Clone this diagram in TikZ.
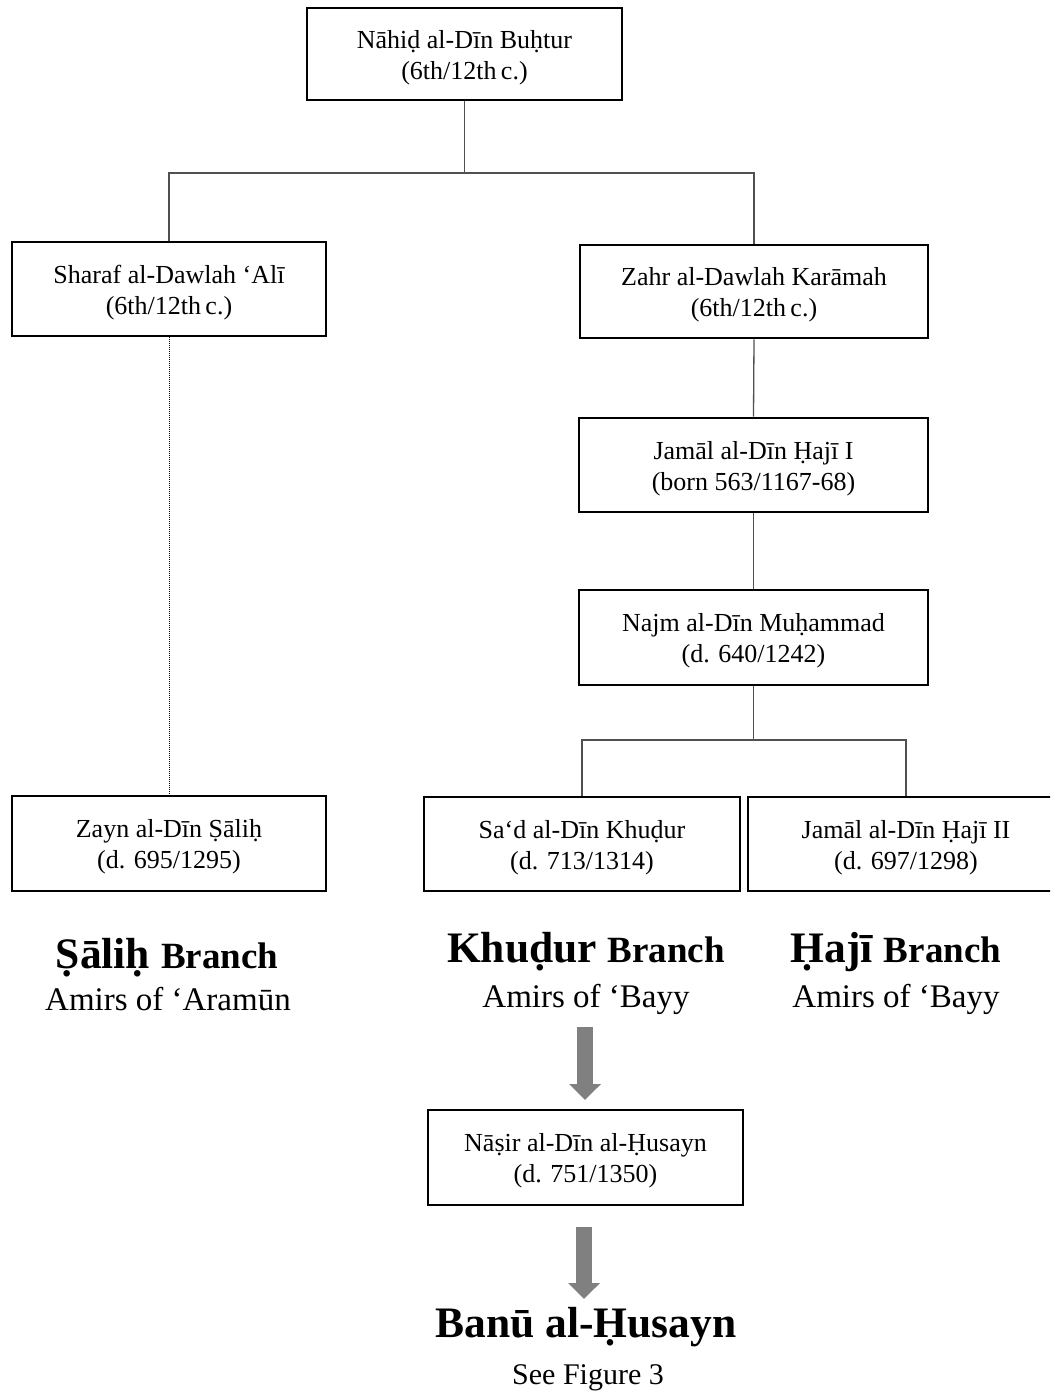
\documentclass[tikz,border=0pt]{standalone}
\usepackage{fontspec}
\setmainfont{Liberation Serif}
\usetikzlibrary{arrows.meta}
\definecolor{arrowgray}{HTML}{808080}
\definecolor{linegray}{HTML}{505050}
\newcommand\brnamefont{\fontsize{43.5}{43.5}\selectfont\bfseries}
\newcommand\brwordfont{\fontsize{37}{37}\selectfont\bfseries}
\newcommand\boxstrut{\rule{0pt}{25.5pt}}
\begin{document}
\begin{tikzpicture}[x=1pt,y=-1pt,
  person/.style={draw=black,line width=2.6pt,fill=white,align=center,inner sep=0pt,
    font=\fontsize{26}{31}\selectfont},
  link/.style={draw=linegray,line width=1.3pt},
  dotlink/.style={draw=black,line width=1pt,densely dotted},
  bigarrow/.style={draw=arrowgray,line width=16pt,
    -{Triangle[width=31pt,length=16pt]}},
  sub/.style={anchor=base,font=\fontsize{33}{33}\selectfont}]
\useasboundingbox (0,0) rectangle (1050,1397);
\clip (0,0) rectangle (1050,1397);

% boxes
\node[person,minimum width=315pt,minimum height=92pt] (top) at (464.5,54) {\boxstrut Nāhiḍ al-Dīn Buḥtur\\(6th/12th\,c.)};
\node[person,minimum width=314pt,minimum height=94pt] (sharaf) at (169,289) {\boxstrut Sharaf al-Dawlah ‘Alī\\(6th/12th\,c.)};
\node[person,minimum width=348pt,minimum height=93pt] (zahr) at (754,291.5) {\boxstrut Zahr al-Dawlah Karāmah\\(6th/12th\,c.)};
\node[person,minimum width=349pt,minimum height=94pt] (jamal) at (753.5,465) {\boxstrut Jamāl al-Dīn Ḥajī I\\(born 563/1167-68)};
\node[person,minimum width=349pt,minimum height=95pt] (najm) at (753.5,637.5) {\boxstrut Najm al-Dīn Muḥammad\\(d. 640/1242)};
\node[person,minimum width=314pt,minimum height=95pt] (zayn) at (169,843.5) {\boxstrut Zayn al-Dīn Ṣāliḥ\\(d. 695/1295)};
\node[person,minimum width=316pt,minimum height=94pt] (sad) at (582,844) {\boxstrut Sa‘d al-Dīn Khuḍur\\(d. 713/1314)};
\node[person,minimum width=316pt,minimum height=94pt] (haji) at (906,844) {\boxstrut Jamāl al-Dīn Ḥajī II\\(d. 697/1298)};
\node[person,minimum width=315pt,minimum height=95pt] (nasir) at (585.5,1157.5) {\boxstrut Nāṣir al-Dīn al-Ḥusayn\\(d. 751/1350)};

% junctions
\coordinate (j1) at (464.5,173);
\coordinate (j2) at (753.5,740);

% connectors
\draw[link] (top.south) -- (j1);
\draw[link] (sharaf.north) |- (j1) -| (zahr.north);
\draw[link] (zahr.south) -- (jamal.north);
\draw[link] (jamal.south) -- (najm.north);
\draw[link] (najm.south) -- (j2);
\draw[link] (sad.north) |- (j2) -| (haji.north);
\draw[dotlink] (sharaf.south) -- (zayn.north);

% branch labels
\node[anchor=base] (salihb) at (167,968) {{\brnamefont Ṣāliḥ }{\brwordfont Branch}};
\node[sub] (saliha) at (168,1010) {Amirs of ‘Aramūn};
\node[anchor=base] (khudurb) at (586,962) {{\brnamefont Khuḍur }{\brwordfont Branch}};
\node[sub] (khudura) at (586,1007) {Amirs of ‘Bayy};
\node[anchor=base] (hajib) at (896,962) {{\brnamefont Ḥajī }{\brwordfont Branch}};
\node[sub] (hajia) at (896,1007) {Amirs of ‘Bayy};

% arrows
\coordinate (a1s) at (585,1027);
\coordinate (a1e) at (585,1100);
\coordinate (a2s) at (584,1227);
\coordinate (a2e) at (584,1299);
\draw[bigarrow] (a1s) -- (a1e);
\draw[bigarrow] (a2s) -- (a2e);

% final label
\node[anchor=base,font=\brnamefont] (banu) at (586,1337) {Banū al-Ḥusayn};
\node[anchor=base,font=\fontsize{30}{30}\selectfont] (seefig) at (588,1384) {See Figure 3};
\end{tikzpicture}
\end{document}
